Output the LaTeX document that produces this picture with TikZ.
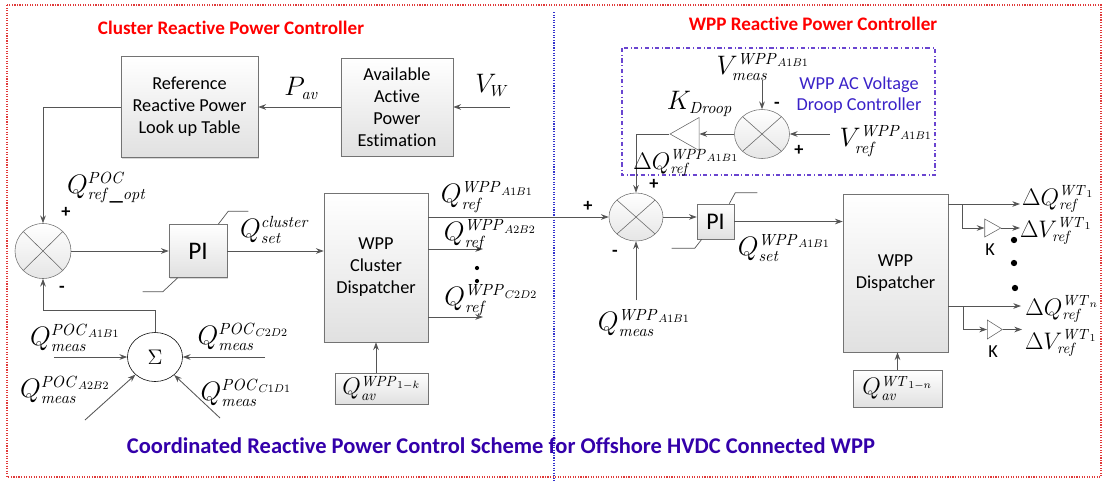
\RequirePackage{fix-cm}
\documentclass[tikz,border=0pt]{standalone}
\usepackage[no-math]{fontspec}
\setmainfont{Carlito}[Ligatures=NoCommon]
\usepackage{xcolor}
\usepackage{tikz}
\usetikzlibrary{arrows.meta,shapes.geometric,shadows}
\DeclareMathSizes{19}{19}{11.5}{8}
\DeclareMathSizes{17}{17}{10.5}{7.5}
\definecolor{titlered}{HTML}{FF0000}
\definecolor{framered}{HTML}{E03A3A}
\definecolor{splitblue}{HTML}{3333CC}
\definecolor{droopviolet}{HTML}{6A45D0}
\definecolor{droopblue}{HTML}{3A22C8}
\definecolor{schemeblue}{HTML}{3300AA}
\definecolor{wiregray}{HTML}{555555}

\begin{document}
\begin{tikzpicture}[x=0.025cm,y=-0.025cm,>=Stealth,
  wire/.style={draw=wiregray,line width=.6pt},
  arr/.style={wire,-{Stealth[length=5.5pt,width=4pt]}},
  lim/.style={draw=wiregray,line width=.5pt},
  blk/.style={draw=black!55,top color=white,bottom color=black!12,
    drop shadow={shadow xshift=1pt,shadow yshift=-1pt,fill=black!30},
    align=center,inner sep=0pt,font=\fontsize{13}{15.6}\selectfont},
  sumj/.style={ellipse,draw=black!55,top color=white,bottom color=black!10,inner sep=0pt,
    path picture={\draw[black!60]
      (path picture bounding box.north west) -- (path picture bounding box.south east)
      (path picture bounding box.south west) -- (path picture bounding box.north east);}},
  gain/.style={isosceles triangle,isosceles triangle stretches,draw=black!60,fill=white,inner sep=0pt},
  lbl/.style={inner sep=0pt,font=\fontsize{19}{21}\selectfont},
  slbl/.style={inner sep=0pt,font=\fontsize{17}{19}\selectfont},
  sgn/.style={inner sep=0pt,font=\bfseries\fontsize{13}{14}\selectfont},
  txt/.style={inner sep=0pt,font=\fontsize{13}{15.6}\selectfont},
  dot/.style={circle,fill=black,inner sep=0pt,minimum size=4.5pt},
  ttl/.style={font=\bfseries\fontsize{13.6}{16}\selectfont,text=titlered}]

  \useasboundingbox (0,0) rectangle (1102,481);
  \draw[framered,densely dotted,line width=.8pt] (7,5) rectangle (1101,477);
  \draw[splitblue,densely dotted,line width=.8pt] (554,12) -- (554,481);
  \draw[droopviolet,dash dot,line width=.8pt] (622,48) rectangle (935,175);

  % titles
  \node[ttl] (ttlc) at (231,28) {Cluster Reactive Power Controller};
  \node[ttl] (ttlw) at (813,24) {WPP Reactive Power Controller};
  \node[font=\bfseries\fontsize{16}{18}\selectfont,text=schemeblue] (ttls) at (501,446)
    {Coordinated Reactive Power Control Scheme for Offshore HVDC Connected WPP};
  \node[align=center,text=droopblue,font=\fontsize{13}{14.5}\selectfont] (droopl) at (859,95)
    {WPP AC Voltage\\Droop Controller};

  % cluster controller
  \node[blk,minimum width=3.425cm,minimum height=2.525cm] (lut) at (189.5,107)
    {Reference\\Reactive Power\\Look up Table};
  \node[blk,minimum width=2.8cm,minimum height=2.45cm] (ape) at (397,107)
    {Available\\Active\\Power\\Estimation};
  \node[blk,font=\fontsize{18}{20}\selectfont,minimum width=1.45cm,minimum height=1.325cm] (pic) at (198,251) {PI};
  \node[blk,minimum width=2.6cm,minimum height=3.725cm] (cdisp) at (376,267.5) {WPP\\Cluster\\Dispatcher};
  \node[blk,font=\fontsize{17}{19}\selectfont,minimum width=2.325cm,minimum height=.775cm] (qavc) at (381.5,388.5)
    {$Q^{\mathit{WPP}_{1-k}}_{\mathit{av}}$};
  \node[sumj,minimum width=1.4cm,minimum height=1.375cm] (jc) at (43,251) {};
  \node[ellipse,draw=black,fill=white,inner sep=0pt,minimum width=1.375cm,minimum height=1.225cm,
    font=\fontsize{15}{16}\selectfont] (sig) at (155,357) {$\Sigma$};

  % WPP controller
  \node[sumj,minimum width=1.375cm,minimum height=1.225cm] (jd) at (762,134) {};
  \node[sumj,minimum width=1.35cm,minimum height=1.2cm] (jw) at (636,217) {};
  \node[gain,shape border rotate=180,minimum width=.825cm,minimum height=.725cm] (kd) at (689.5,134) {};
  \node[blk,font=\fontsize{17}{20}\selectfont,minimum width=.925cm,minimum height=.875cm] (piw) at (715.5,221.5) {PI};
  \node[blk,minimum width=2.625cm,minimum height=3.95cm] (wdisp) at (895.5,273) {WPP\\Dispatcher};
  \node[blk,font=\fontsize{17}{19}\selectfont,minimum width=2.225cm,minimum height=.925cm] (qavw) at (897.5,388.5)
    {$Q^{\mathit{WT}_{1-n}}_{\mathit{av}}$};
  \node[gain,minimum width=.45cm,minimum height=.4cm] (k1) at (990,228) {};
  \node[gain,minimum width=.475cm,minimum height=.375cm] (kn) at (992.5,329.5) {};

  \coordinate (vw) at (510,107);
  \coordinate (qa2) at (483,249);
  \coordinate (qc2) at (483,317);
  \coordinate (m1) at (54,357);
  \coordinate (m2) at (265,357);
  \coordinate (m3) at (85,420);
  \coordinate (m4) at (220,418);
  \coordinate (vm) at (762,80);
  \coordinate (vr) at (830,134);
  \coordinate (qm) at (636,300);
  \coordinate (b1) at (962,204);
  \coordinate (bn) at (963,306);
  \coordinate (dq1) at (1020,204);
  \coordinate (dv1) at (1020,228);
  \coordinate (dqn) at (1021,306);
  \coordinate (dvn) at (1022,329.5);

  % wires
  \draw[arr] (vw) -- (ape);
  \draw[arr] (ape) -- (lut);
  \draw[arr] (lut.west) -| (jc.north);
  \draw[arr] (jc) -- (pic);
  \draw[arr] (pic) -- (cdisp.west |- pic);
  \draw[arr] (cdisp.east |- jw) -- (jw);
  \draw[arr] (cdisp.east |- qa2) -- (qa2);
  \draw[arr] (cdisp.east |- qc2) -- (qc2);
  \draw[arr] (qavc.north -| cdisp) -- (cdisp.south);
  \draw[arr] (sig.north) -- ++(0,-22) -| (jc.south);
  \foreach \m in {m1,m2,m3,m4} \draw[arr] (\m) -- (sig);
  \draw[arr] (vm) -- (jd);
  \draw[arr] (vr) -- (jd);
  \draw[arr] (jd) -- (kd);
  \draw[arr] (kd.apex) -| (jw.north);
  \draw[arr] (qm) -- (jw);
  \draw[arr] (jw) -- (piw.west |- jw);
  \draw[arr] (piw) -- (wdisp.west |- piw);
  \draw[arr] (qavw.north) -- (qavw.north |- wdisp.south);
  \draw[arr] (wdisp.east |- dq1) -- (dq1);
  \draw[arr] (wdisp.east |- dqn) -- (dqn);
  \draw[arr] (b1) |- (k1);
  \draw[arr] (bn) |- (kn);
  \draw[arr] (k1.apex) -- (dv1);
  \draw[arr] (kn.apex) -- (dvn);

  % PI limits
  \draw[lim] ([xshift=-.225cm]pic.north east) -- ++(10,-13) -- ++(20,0);
  \draw[lim] ([xshift=.225cm]pic.south west) -- ++(-15,14) -- ++(-20,0);
  \draw[lim] ([xshift=-.125cm]piw.north east) -- ++(6,-11) -- ++(22,0);
  \draw[lim] ([xshift=.125cm]piw.south west) -- ++(-7,9) -- ++(-23,0);

  % labels, left
  \node[lbl] (pav) at (302,88) {$P_{\mathit{av}}$};
  \node[lbl] (vwl) at (492,85) {$V_{W}$};
  \node[lbl] (qopt) at (107,188) {$Q^{\mathit{POC}}_{\mathit{ref\_opt}}$};
  \node[sgn] (pc1) at (66,212) {+};
  \node[sgn] (mc1) at (62,289) {-};
  \node[lbl] (qsetc) at (275,230) {$Q^{\mathit{cluster}}_{\mathit{set}}$};
  \node[lbl] (qra1) at (487,197) {$Q^{\mathit{WPP}_{A1B1}}_{\mathit{ref}}$};
  \node[lbl] (qra2) at (490,235) {$Q^{\mathit{WPP}_{A2B2}}_{\mathit{ref}}$};
  \node[lbl] (qrc2) at (491,300) {$Q^{\mathit{WPP}_{C2D2}}_{\mathit{ref}}$};
  \node[dot,minimum size=3pt] (dc1) at (477,268) {};
  \node[dot,minimum size=3pt] (dc2) at (477,281) {};
  \node[lbl] (qm1) at (75,338) {$Q^{\mathit{POC}_{A1B1}}_{\mathit{meas}}$};
  \node[lbl] (qm2) at (65,390) {$Q^{\mathit{POC}_{A2B2}}_{\mathit{meas}}$};
  \node[lbl] (qm3) at (243,337) {$Q^{\mathit{POC}_{C2D2}}_{\mathit{meas}}$};
  \node[lbl] (qm4) at (246,393) {$Q^{\mathit{POC}_{C1D1}}_{\mathit{meas}}$};

  % labels, right
  \node[sgn] (pw1) at (588,206) {+};
  \node[sgn] (pw2) at (654,184) {+};
  \node[sgn] (mw1) at (615,253) {-};
  \node[slbl] (dqw) at (686,163) {$\Delta Q^{\mathit{WPP}_{A1B1}}_{\mathit{ref}}$};
  \node[lbl] (kdl) at (700,104) {$K_{\mathit{Droop}}$};
  \node[lbl] (vml) at (763,67) {$V^{\mathit{WPP}_{A1B1}}_{\mathit{meas}}$};
  \node[sgn] (md1) at (777,105) {-};
  \node[sgn] (pd1) at (799,150) {+};
  \node[lbl] (vrl) at (886,141) {$V^{\mathit{WPP}_{A1B1}}_{\mathit{ref}}$};
  \node[lbl] (qsetw) at (784,248) {$Q^{\mathit{WPP}_{A1B1}}_{\mathit{set}}$};
  \node[lbl] (qmw) at (644,323) {$Q^{\mathit{WPP}_{A1B1}}_{\mathit{meas}}$};
  \node[slbl] (dq1l) at (1058,199) {$\Delta Q^{\mathit{WT}_1}_{\mathit{ref}}$};
  \node[slbl] (dv1l) at (1056,231) {$\Delta V^{\mathit{WT}_1}_{\mathit{ref}}$};
  \node[slbl] (dqnl) at (1062,309) {$\Delta Q^{\mathit{WT}_n}_{\mathit{ref}}$};
  \node[slbl] (dvnl) at (1061,343) {$\Delta V^{\mathit{WT}_1}_{\mathit{ref}}$};
  \node[txt] (k1l) at (990,250) {K};
  \node[txt] (knl) at (993,352) {K};
  \node[dot] (dw1) at (1014,240) {};
  \node[dot] (dw2) at (1014,263) {};
  \node[dot] (dw3) at (1015,288) {};
\end{tikzpicture}
\end{document}
